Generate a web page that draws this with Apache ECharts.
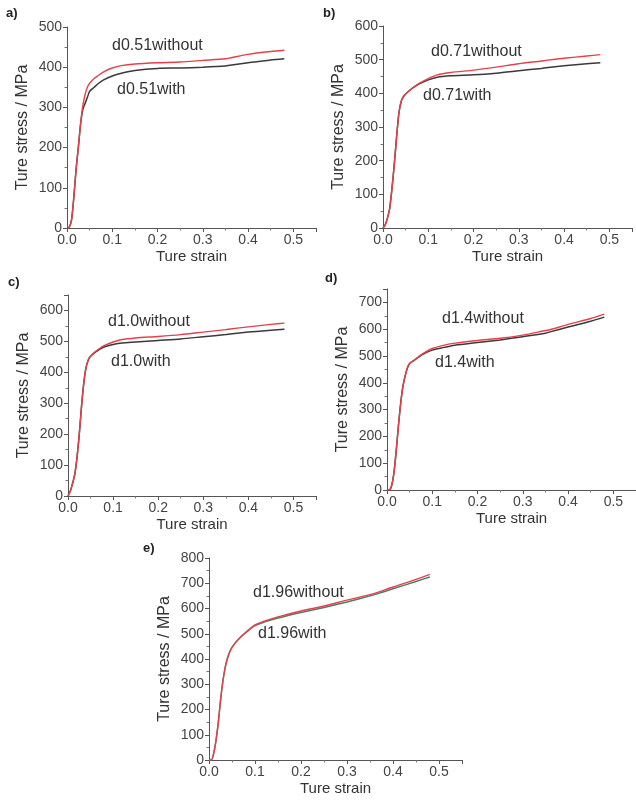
<!DOCTYPE html>
<html>
<head>
<meta charset="utf-8">
<script src="https://cdn.jsdelivr.net/npm/echarts@6/dist/echarts.min.js"></script>
<style>
  html, body { margin: 0; padding: 0; background: #fff; }
  #chart { width: 636px; height: 803px; }
</style>
</head>
<body>
<div id="chart"></div>
<script>
// shared strain grid
const strain = [0, 0.005, 0.01, 0.015, 0.02, 0.025, 0.03, 0.035, 0.04, 0.045, 0.05, 0.06, 0.07, 0.08,
  0.1, 0.12, 0.15, 0.2, 0.25, 0.3, 0.35, 0.36, 0.4, 0.45, 0.48];

// a) d0.51
const withoutA = [0, 2, 20, 75, 145, 200, 260, 305, 332, 350, 360, 372, 380, 388, 398, 404, 408, 411, 413, 417, 421, 423, 432, 439, 442];
const withA    = [0, 2, 20, 75, 145, 200, 258, 295, 310, 325, 340, 350, 360, 368, 378, 385, 392, 397, 398, 400, 403, 405, 411, 418, 421];
// b) d0.71
const withoutB = [0, 10, 30, 60, 120, 190, 270, 340, 375, 390, 398, 410, 420, 430, 444, 455, 462, 469, 478, 488, 496, 498, 504, 511, 515];
const withB    = [0, 10, 30, 60, 120, 190, 270, 340, 375, 390, 398, 410, 420, 428, 440, 448, 452, 455, 460, 467, 474, 476, 482, 488, 491];
// c) d1.0
const withoutC = [0, 15, 40, 70, 125, 200, 290, 365, 415, 440, 452, 466, 477, 486, 498, 506, 511, 516, 522, 530, 538, 540, 547, 555, 559];
const withC    = [0, 15, 40, 70, 125, 200, 290, 365, 415, 440, 452, 464, 474, 482, 490, 495, 498, 503, 508, 515, 522, 524, 530, 536, 539];
// d) d1.4
const withoutD = [0, 0, 15, 60, 140, 235, 320, 385, 425, 455, 472, 484, 498, 510, 528, 538, 548, 558, 566, 578, 595, 598, 618, 640, 656];
const withD    = [0, 0, 15, 60, 140, 235, 320, 385, 425, 455, 472, 484, 496, 507, 522, 530, 540, 550, 560, 572, 585, 590, 608, 630, 645];
// e) d1.96
const withoutE = [0, 0, 25, 75, 145, 235, 310, 365, 402, 428, 446, 470, 490, 506, 535, 550, 567, 590, 610, 633, 655, 660, 685, 715, 735];
const withE    = [0, 0, 25, 75, 145, 235, 310, 365, 402, 428, 446, 470, 488, 504, 532, 546, 562, 584, 604, 626, 650, 655, 678, 707, 725];

const panelLabels = ['a)', 'b)', 'c)', 'd)', 'e)'];
const sizes = ['d0.51', 'd0.71', 'd1.0', 'd1.4', 'd1.96'];
const yMax = [500, 600, 650, 750, 800];
const xTicks = [0, 0.1, 0.2, 0.3, 0.4, 0.5];

const FONT = '"Liberation Sans", Arial, sans-serif';
const chart = echarts.init(document.getElementById('chart'));

const grids = [
  {left: 67, top: 27, width: 249, height: 201},
  {left: 383, top: 26, width: 249, height: 202},
  {left: 68, top: 295, width: 248, height: 201},
  {left: 387, top: 289, width: 251, height: 201},
  {left: 209, top: 558, width: 253, height: 202}
];
const withoutData = [withoutA, withoutB, withoutC, withoutD, withoutE];
const withData = [withA, withB, withC, withD, withE];
const withColors = ['#3a3a3a', '#3a3a3a', '#3a3a3a', '#3a3a3a', '#4f7d66'];

// label spots (pixels)
const labelPos = [
  [[112, 47], [117, 91]],
  [[431, 53], [423, 97]],
  [[108, 323], [111, 363]],
  [[442, 320], [435, 364]],
  [[253, 594], [258, 635]]
];
const panelPos = [[6, 15], [323, 15], [8, 284], [325, 280], [143, 550]];

const axisLine = {lineStyle: {color: '#555', width: 1}};
const xAxes = [], yAxes = [], series = [], graphics = [];

grids.forEach((g, i) => {
  xAxes.push({
    type: 'value', gridIndex: i, min: 0, max: 0.55, interval: 0.1,
    name: 'Ture strain', nameLocation: 'middle', nameGap: 21,
    nameTextStyle: {fontFamily: FONT, fontSize: 15, color: '#333'},
    axisLine: axisLine,
    axisTick: {show: true, length: 4, lineStyle: {color: '#555'}},
    minorTick: {show: true, splitNumber: 2, length: 2.5, lineStyle: {color: '#777'}},
    splitLine: {show: false},
    axisLabel: {fontFamily: FONT, fontSize: 14, color: '#444', margin: 5, showMaxLabel: false,
      formatter: v => v.toFixed(1)}
  });
  yAxes.push({
    type: 'value', gridIndex: i, min: 0, max: yMax[i], interval: 100,
    name: 'Ture stress / MPa', nameLocation: 'middle', nameGap: 36, nameRotate: 90,
    nameTextStyle: {fontFamily: FONT, fontSize: 16, color: '#333'},
    axisLine: Object.assign({show: true}, axisLine),
    axisTick: {show: true, length: 4, lineStyle: {color: '#555'}},
    minorTick: {show: true, splitNumber: 2, length: 2.5, lineStyle: {color: '#777'}},
    splitLine: {show: false},
    axisLabel: {fontFamily: FONT, fontSize: 14, color: '#444', margin: 5, showMaxLabel: yMax[i] % 100 === 0}
  });
  series.push({
    name: sizes[i] + 'with', type: 'line', xAxisIndex: i, yAxisIndex: i,
    data: strain.map((s, k) => [s, withData[i][k]]),
    showSymbol: false, smooth: 0.25,
    lineStyle: {color: withColors[i], width: 1.5}
  });
  series.push({
    name: sizes[i] + 'without', type: 'line', xAxisIndex: i, yAxisIndex: i,
    data: strain.map((s, k) => [s, withoutData[i][k]]),
    showSymbol: false, smooth: 0.25,
    lineStyle: {color: '#e8404a', width: 1.4}
  });
  graphics.push({
    type: 'text', left: labelPos[i][0][0], top: labelPos[i][0][1] - 9,
    style: {text: sizes[i] + 'without', font: '16px ' + FONT, fill: '#333'}
  });
  graphics.push({
    type: 'text', left: labelPos[i][1][0], top: labelPos[i][1][1] - 9,
    style: {text: sizes[i] + 'with', font: '16px ' + FONT, fill: '#333'}
  });
  graphics.push({
    type: 'text', left: panelPos[i][0], top: panelPos[i][1] - 8,
    style: {text: panelLabels[i], font: 'bold 13px ' + FONT, fill: '#222'}
  });
});

chart.setOption({
  backgroundColor: '#fff',
  animation: false,
  grid: grids,
  xAxis: xAxes,
  yAxis: yAxes,
  series: series,
  graphic: graphics
});
</script>
</body>
</html>
